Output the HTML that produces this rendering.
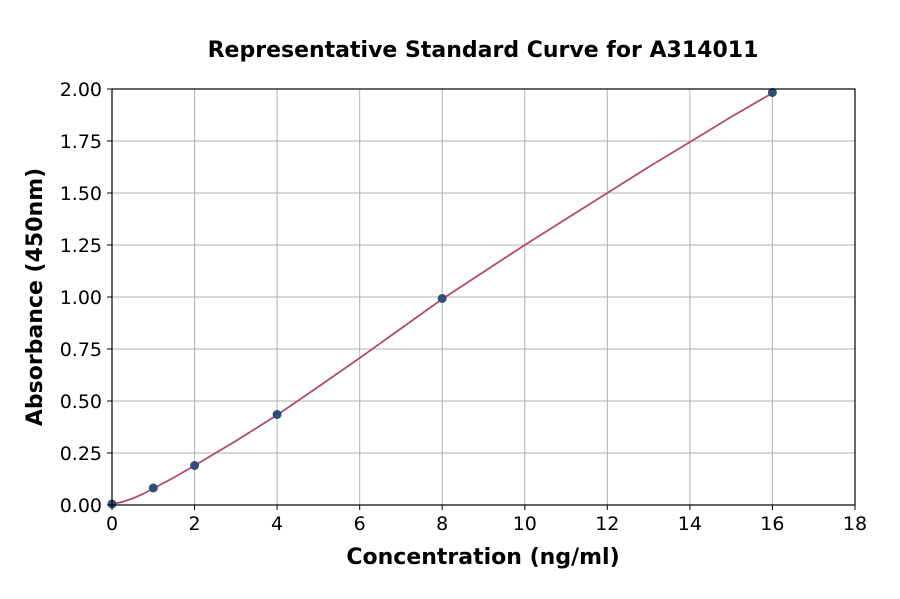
<!DOCTYPE html>
<html><head><meta charset="utf-8"><style>
body{margin:0;background:#fff;}
text{font-family:"DejaVu Sans","Liberation Sans",sans-serif;}
</style></head><body>
<svg width="900" height="594" xmlns="http://www.w3.org/2000/svg">
<rect width="900" height="594" fill="#fff"/>
<text x="483" y="57" text-anchor="middle" font-size="22" font-weight="bold">Representative Standard Curve for A314011</text>
<g stroke="#b0b0b0" stroke-width="1">
<line x1="194.6" y1="89" x2="194.6" y2="505"/><line x1="277.1" y1="89" x2="277.1" y2="505"/>
<line x1="359.7" y1="89" x2="359.7" y2="505"/><line x1="442.2" y1="89" x2="442.2" y2="505"/>
<line x1="524.8" y1="89" x2="524.8" y2="505"/><line x1="607.3" y1="89" x2="607.3" y2="505"/>
<line x1="689.9" y1="89" x2="689.9" y2="505"/><line x1="772.4" y1="89" x2="772.4" y2="505"/>
<line x1="112" y1="453" x2="855" y2="453"/><line x1="112" y1="401" x2="855" y2="401"/>
<line x1="112" y1="349" x2="855" y2="349"/><line x1="112" y1="297" x2="855" y2="297"/>
<line x1="112" y1="245" x2="855" y2="245"/><line x1="112" y1="193" x2="855" y2="193"/>
<line x1="112" y1="141" x2="855" y2="141"/>
</g>
<polyline fill="none" stroke="#b5486e" stroke-width="1.8" points="112,504 122,502 132.6,498.5 143,494 153.3,488.5 174,477.5 194.6,465.5 235.8,441 277.1,415 318,387 359.7,358 401,328.5 442.2,299 483.5,272 524.8,245 566,219 607.3,193 648.6,167 690,142 731,117 772.4,93"/>
<g fill="#2e4f78">
<circle cx="112" cy="504" r="4.5"/><circle cx="153.3" cy="488" r="4.5"/><circle cx="194.6" cy="465.5" r="4.5"/>
<circle cx="277.1" cy="414.5" r="4.5"/><circle cx="442.2" cy="298.5" r="4.5"/><circle cx="772.4" cy="92.5" r="4.5"/>
</g>
<rect x="112" y="89" width="743" height="416" fill="none" stroke="#000" stroke-width="1.2"/>
<g stroke="#000" stroke-width="1">
<line x1="112" y1="505" x2="112" y2="510"/><line x1="194.6" y1="505" x2="194.6" y2="510"/><line x1="277.1" y1="505" x2="277.1" y2="510"/><line x1="359.7" y1="505" x2="359.7" y2="510"/><line x1="442.2" y1="505" x2="442.2" y2="510"/><line x1="524.8" y1="505" x2="524.8" y2="510"/><line x1="607.3" y1="505" x2="607.3" y2="510"/><line x1="689.9" y1="505" x2="689.9" y2="510"/><line x1="772.4" y1="505" x2="772.4" y2="510"/><line x1="855" y1="505" x2="855" y2="510"/>
<line x1="107" y1="505" x2="112" y2="505"/><line x1="107" y1="453" x2="112" y2="453"/><line x1="107" y1="401" x2="112" y2="401"/><line x1="107" y1="349" x2="112" y2="349"/><line x1="107" y1="297" x2="112" y2="297"/><line x1="107" y1="245" x2="112" y2="245"/><line x1="107" y1="193" x2="112" y2="193"/><line x1="107" y1="141" x2="112" y2="141"/><line x1="107" y1="89" x2="112" y2="89"/>
</g>
<g font-size="19" text-anchor="middle">
<text x="112" y="530">0</text><text x="194.6" y="530">2</text><text x="277.1" y="530">4</text><text x="359.7" y="530">6</text><text x="442.2" y="530">8</text><text x="524.8" y="530">10</text><text x="607.3" y="530">12</text><text x="689.9" y="530">14</text><text x="772.4" y="530">16</text><text x="855" y="530">18</text>
</g>
<g font-size="19" text-anchor="end">
<text x="102" y="512">0.00</text><text x="102" y="460">0.25</text><text x="102" y="408">0.50</text><text x="102" y="356">0.75</text><text x="102" y="304">1.00</text><text x="102" y="252">1.25</text><text x="102" y="200">1.50</text><text x="102" y="148">1.75</text><text x="102" y="96">2.00</text>
</g>
<text x="483" y="564" text-anchor="middle" font-size="22" font-weight="bold">Concentration (ng/ml)</text>
<text transform="translate(42,297) rotate(-90)" text-anchor="middle" font-size="22" font-weight="bold">Absorbance (450nm)</text>
</svg>
</body></html>
